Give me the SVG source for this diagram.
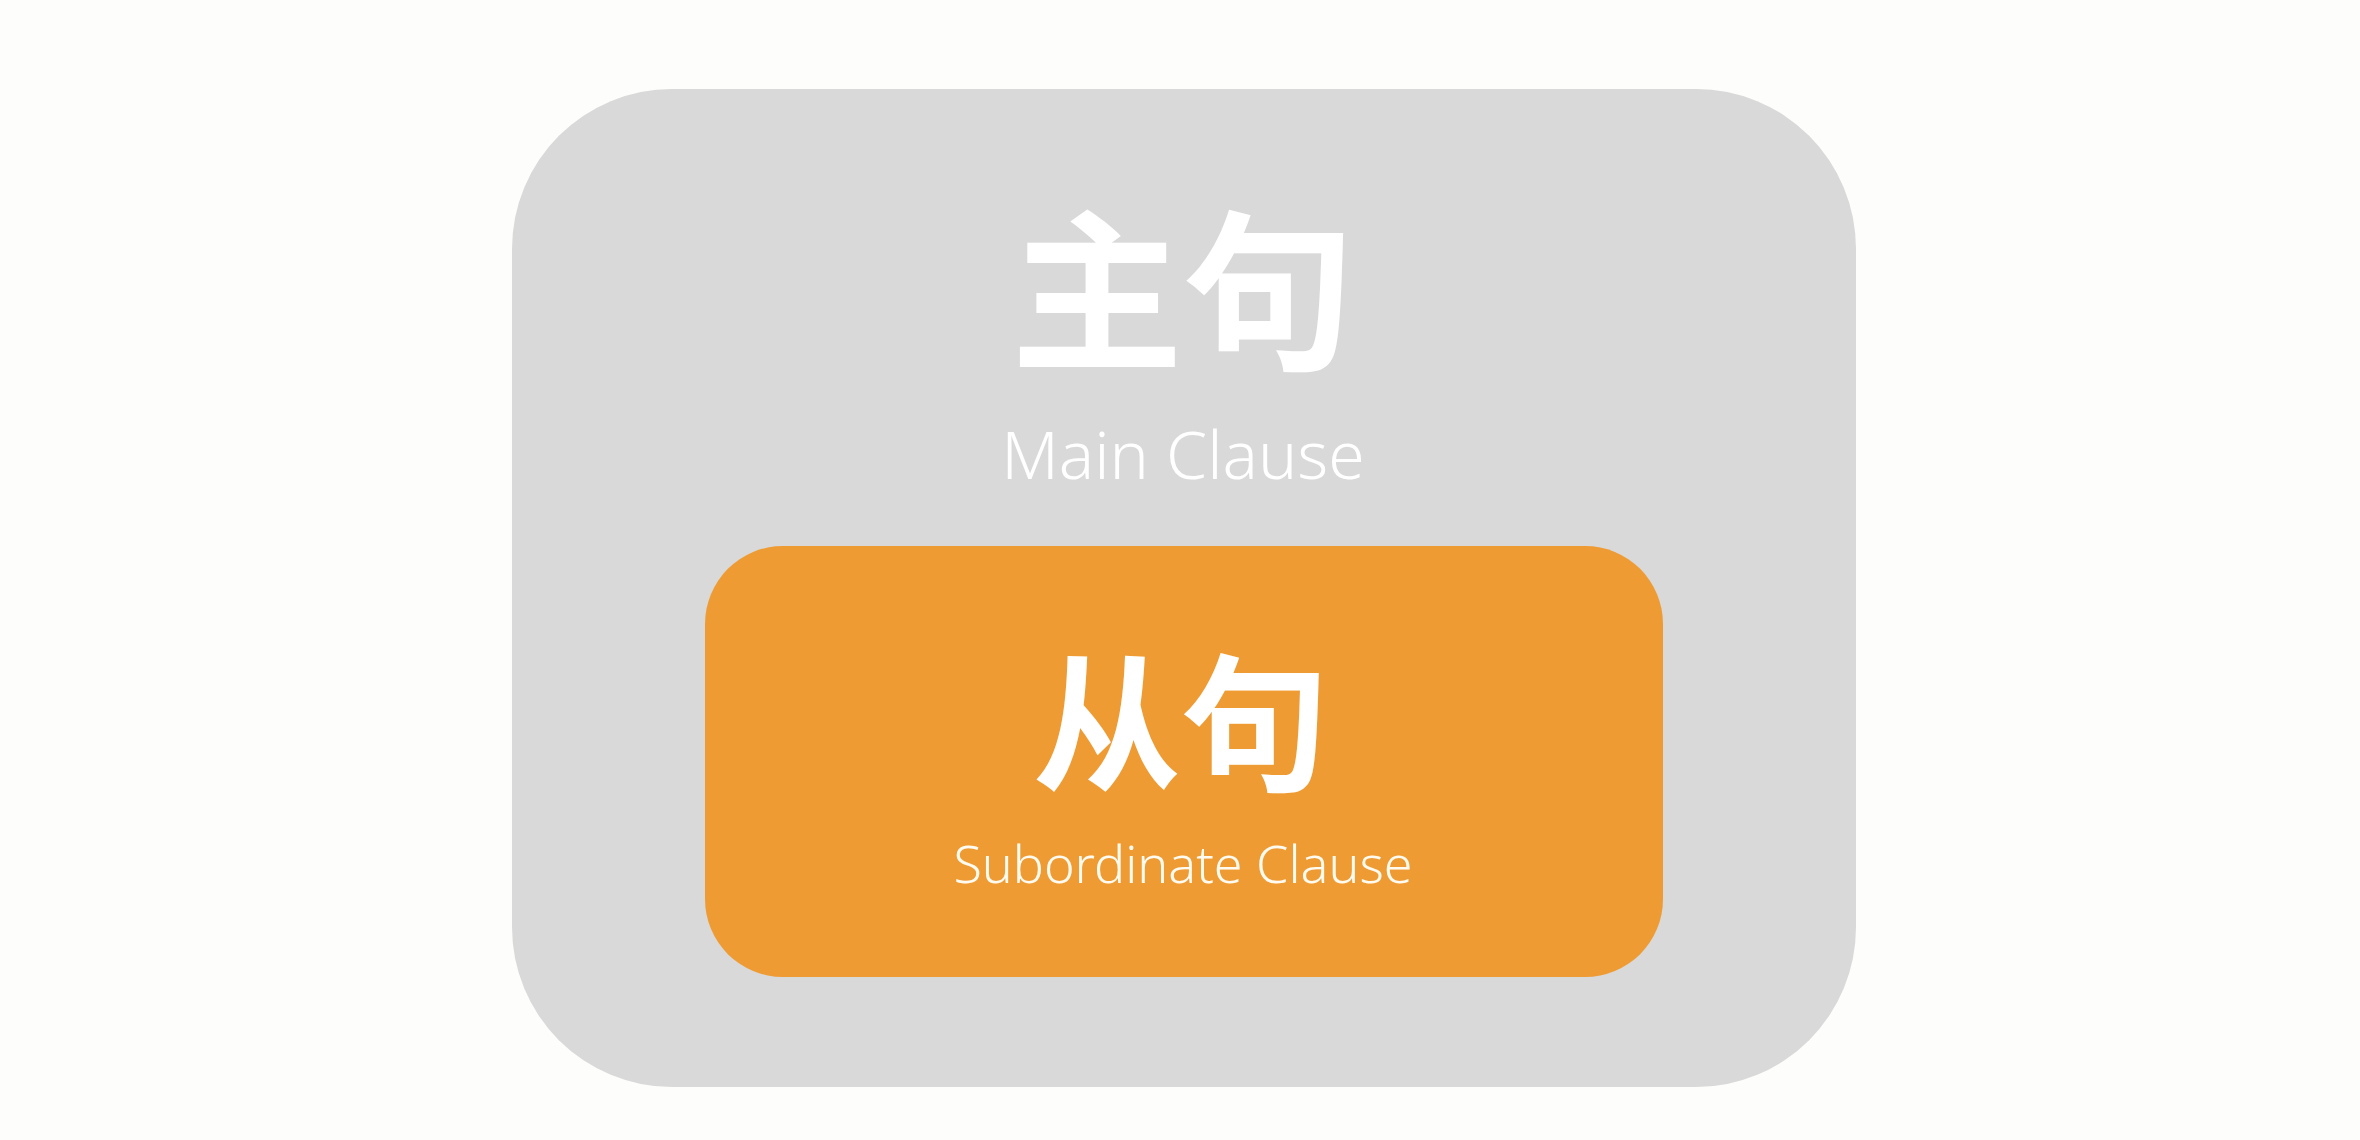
<svg xmlns="http://www.w3.org/2000/svg" width="2360" height="1140" viewBox="0 0 2360 1140">
  <style>
    .cjk { font-family: "Noto Sans CJK SC", "Noto Sans CJK JP", sans-serif; font-weight: 700; fill: #FFFFFF; text-anchor: middle; }
    .lat { font-family: "Noto Sans", "Open Sans", sans-serif; font-weight: 300; text-anchor: middle; }
  </style>
  <rect x="0" y="0" width="2360" height="1140" fill="#FDFDFB"/>
  <g id="main-clause">
    <rect x="512" y="89" width="1344" height="998" rx="160" ry="160" fill="#D8D9D8"/>
    <text class="cjk" x="1183" y="356" font-size="172">主句</text>
    <text class="lat" x="1183" y="479" font-size="66" fill="#FFFFFF">Main Clause</text>
  </g>
  <g id="subordinate-clause">
    <rect x="705" y="546" width="958" height="431" rx="78" ry="78" fill="#EF9B33"/>
    <text class="cjk" x="1181" y="779" font-size="148">从句</text>
    <text class="lat" x="1183" y="883" font-size="52" fill="#FFFBF0">Subordinate Clause</text>
  </g>
  <g id="connectors"/>
</svg>
